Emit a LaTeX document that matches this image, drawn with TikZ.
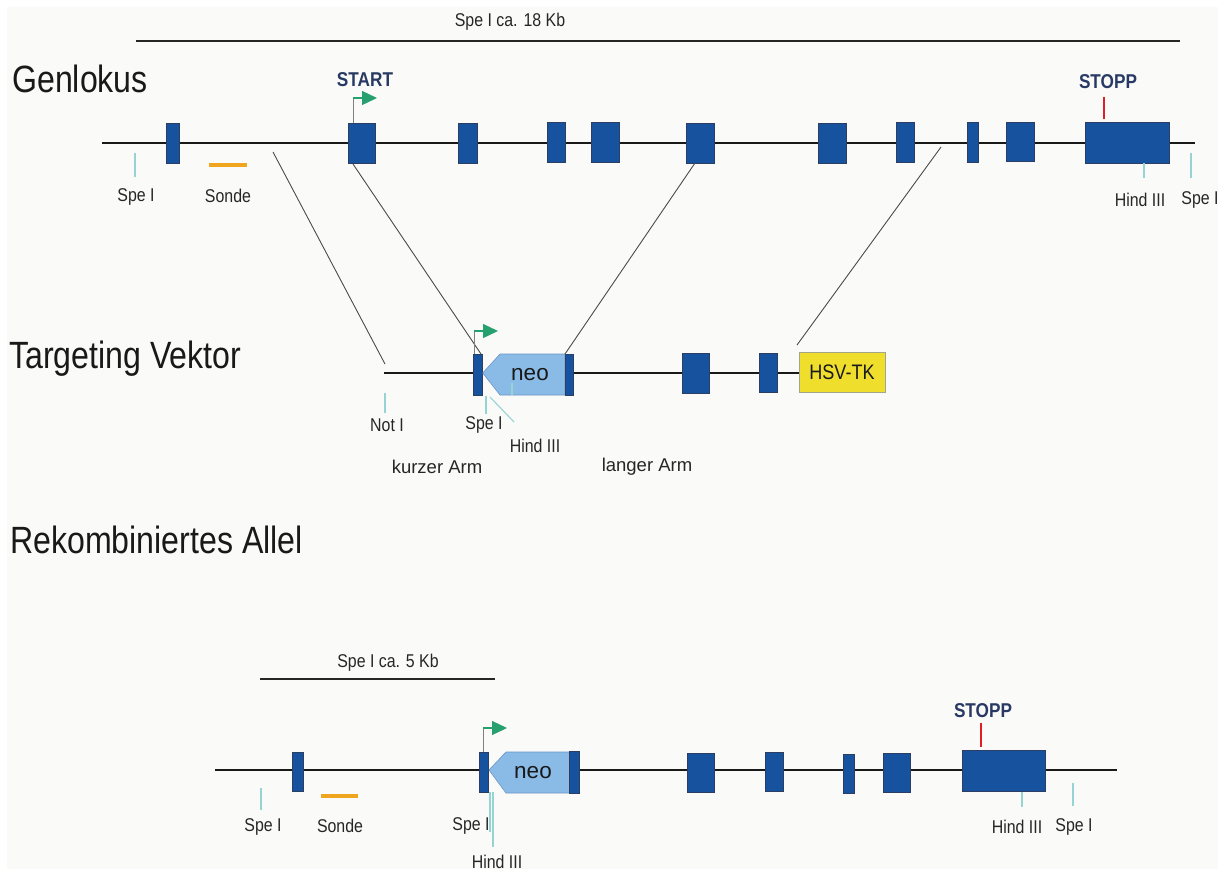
\documentclass[tikz,border=0pt]{standalone}
\usepackage{fontspec}
\setmainfont{Liberation Sans}
\newfontfamily\labfont[FakeStretch=0.86]{Liberation Sans}
\newfontfamily\titlefont[FakeStretch=0.845]{Liberation Sans}
\usetikzlibrary{arrows.meta,calc}
\definecolor{exonblue}{RGB}{22,82,158}
\definecolor{exonedge}{RGB}{45,62,100}
\definecolor{neofill}{RGB}{138,186,230}
\definecolor{neoedge}{RGB}{105,150,200}
\definecolor{tkyellow}{RGB}{240,222,44}
\definecolor{tkedge}{RGB}{165,165,140}
\definecolor{promgreen}{RGB}{38,160,110}
\definecolor{tickteal}{RGB}{150,212,212}
\definecolor{stopred}{RGB}{225,30,40}
\definecolor{sondeorange}{RGB}{240,165,30}
\definecolor{navy}{RGB}{40,58,100}
\definecolor{bggray}{RGB}{250,250,248}
\definecolor{diaggray}{RGB}{75,75,75}
\begin{document}
\begin{tikzpicture}[x=1pt,y=-1pt,
 exon/.style={draw=exonedge, line width=0.6pt, fill=exonblue, inner sep=0pt, minimum height=40},
 dna/.style={line width=2pt, black!90},
 spanline/.style={line width=2pt, black!85},
 diag/.style={line width=0.9pt, diaggray},
 site/.style={line width=1.1pt, tickteal},
 lab/.style={inner sep=0pt, font=\labfont\fontsize{18.5}{20}\selectfont, text=black!85},
 armlab/.style={inner sep=0pt, font=\fontsize{18.5}{20}\selectfont, text=black!85},
 ttl/.style={inner sep=0pt, anchor=base west, font=\titlefont\fontsize{38}{40}\selectfont, text=black!90},
 codon/.style={inner sep=0pt, font=\labfont\bfseries\fontsize{20}{22}\selectfont, text=navy},
 stoptick/.style={line width=2.4pt, stopred},
 sonde/.style={line width=4pt, sondeorange},
 promstem/.style={line width=1pt, gray},
 promhead/.style={line width=1.3pt, promgreen, -{Triangle[length=15pt,width=14pt]}},
 neobox/.style={draw=neoedge, line width=0.6pt, fill=neofill},
 neotext/.style={inner sep=0pt, font=\fontsize{22.5}{24}\selectfont, text=black!90},
]
\useasboundingbox (0,0) rectangle (1232,871);
\fill[white] (0,0) rectangle (1232,871);
\fill[bggray] (7,7) rectangle (1218,869);

% ---------------- titles
\node[ttl] (t1) at (12,92) {Genlokus};
\node[ttl] (t2) at (9,368) {Targeting Vektor};
\node[ttl] (t3) at (10,553) {Rekombiniertes Allel};

% ---------------- Genlokus
\coordinate (s1L) at (136,41); \coordinate (s1R) at (1180,41);
\draw[spanline] (s1L) -- (s1R);
\node[lab] (s1lab) at (510,22) {Spe I ca. 18 Kb};

\coordinate (gL) at (102,143); \coordinate (gR) at (1195,143);
\draw[dna] (gL) -- (gR);
\node[exon, minimum width=13] (g1) at (172.5,143) {};
\node[exon, minimum width=27] (g2) at (361.5,143) {};
\node[exon, minimum width=18.5] (g3) at (468,143) {};
\node[exon, minimum width=18] (g4) at (556,142) {};
\node[exon, minimum width=28] (g5) at (605,142) {};
\node[exon, minimum width=28] (g6) at (700,143) {};
\node[exon, minimum width=28] (g7) at (832,143) {};
\node[exon, minimum width=18] (g8) at (905,142) {};
\node[exon, minimum width=11] (g9) at (972.5,142) {};
\node[exon, minimum width=28, minimum height=39] (g10) at (1020,141.5) {};
\node[exon, minimum width=84, minimum height=41] (g11) at (1127,142.5) {};

% promoter + START
\coordinate (gp1) at (353,123); \coordinate (gp2) at (353,98); \coordinate (gp3) at (377,98);
\draw[promstem] (gp1) -- (gp2);
\draw[promhead] (gp2) -- (gp3);
\node[codon] (start) at (365,80) {START};
% STOPP
\coordinate (gs1) at (1104,97); \coordinate (gs2) at (1104,119);
\draw[stoptick] (gs1) -- (gs2);
\node[codon] (stopg) at (1108,82) {STOPP};

% sites
\coordinate (gsp1a) at (135,153); \coordinate (gsp1b) at (135,177);
\draw[site] (gsp1a) -- (gsp1b);
\node[lab] (gsp1) at (136,197) {Spe I};
\coordinate (gso1) at (209,165); \coordinate (gso2) at (247,165);
\draw[sonde] (gso1) -- (gso2);
\node[lab] (gsonde) at (228,196) {Sonde};
\coordinate (ghi1) at (1144,163); \coordinate (ghi2) at (1144,178);
\draw[site] (ghi1) -- (ghi2);
\node[lab] (ghind) at (1140,200) {Hind III};
\coordinate (gsp2a) at (1191,153); \coordinate (gsp2b) at (1191,178);
\draw[site] (gsp2a) -- (gsp2b);
\node[lab] (gsp2) at (1200,200) {Spe I};

% ---------------- Targeting vector
\coordinate (vL) at (384,373); \coordinate (vR) at (799,373);
\draw[dna] (vL) -- (vR);

% homology diagonals
\coordinate (d1a) at (273,152); \coordinate (d1b) at (385,364);
\coordinate (d2a) at (353,164); \coordinate (d2b) at (481,354);
\coordinate (d3a) at (695,163); \coordinate (d3b) at (565,354);
\coordinate (d4a) at (941,147); \coordinate (d4b) at (797,345);
\draw[diag] (d1a) -- (d1b);
\draw[diag] (d2a) -- (d2b);
\draw[diag] (d3a) -- (d3b);
\draw[diag] (d4a) -- (d4b);

\node[exon, minimum width=9.5, minimum height=41] (v1) at (477.75,374.5) {};
\draw[neobox] (482.7,373) -- (500,354) -- (565,354) -- (565,395) -- (500,395) -- cycle;
\node[neotext] (vneo) at (530,375) {neo};
\node[exon, minimum width=8.6, minimum height=41] (v2) at (569.3,374.5) {};
\node[exon, minimum width=26.5] (v3) at (695.75,373) {};
\node[exon, minimum width=18, minimum height=39] (v4) at (768,372.5) {};
\node[draw=tkedge, line width=0.8pt, fill=tkyellow, minimum width=86, minimum height=40, inner sep=0pt,
      font=\labfont\fontsize{21}{22}\selectfont, text=black!90] (tk) at (842,372) {HSV-TK};

\coordinate (vp1) at (474,354); \coordinate (vp2) at (474,331); \coordinate (vp3) at (498,331);
\draw[promstem] (vp1) -- (vp2);
\draw[promhead] (vp2) -- (vp3);

\coordinate (vn1) at (385,393); \coordinate (vn2) at (385,413);
\draw[site] (vn1) -- (vn2);
\node[lab] (vnot) at (387,425) {Not I};
\coordinate (vs1) at (486,396); \coordinate (vs2) at (486,414);
\draw[site] (vs1) -- (vs2);
\node[lab] (vspe) at (484,425) {Spe I};
\coordinate (vh0) at (512,383); \coordinate (vh1) at (490,397); \coordinate (vh2) at (514,422);
\draw[site] (vh0) -- ($(vh0)+(0,12)$);
\draw[site] (vh1) -- (vh2);
\node[lab] (vhind) at (535,446) {Hind III};
\node[armlab] (kurz) at (437,467) {kurzer Arm};
\node[armlab] (lang) at (647,467) {langer Arm};

% ---------------- Recombined allele
\coordinate (s2L) at (260,679); \coordinate (s2R) at (495,679);
\draw[spanline] (s2L) -- (s2R);
\node[lab] (s2lab) at (388,663) {Spe I ca. 5 Kb};

\coordinate (rL) at (215,770); \coordinate (rR) at (1117,770);
\draw[dna] (rL) -- (rR);
\node[exon, minimum width=11, minimum height=39] (r1) at (297.5,771.5) {};
\node[exon, minimum width=9] (r2) at (483.5,772) {};
\draw[neobox] (489,770) -- (506,752) -- (570,752) -- (570,793) -- (506,793) -- cycle;
\node[neotext] (rneo) at (533,773) {neo};
\node[exon, minimum width=10, minimum height=42] (r3) at (574,772) {};
\node[exon, minimum width=27, minimum height=39] (r4) at (700.5,772.5) {};
\node[exon, minimum width=18, minimum height=39] (r5) at (774,772) {};
\node[exon, minimum width=11, minimum height=39] (r6) at (848.5,773.5) {};
\node[exon, minimum width=27, minimum height=39] (r7) at (896.5,772.5) {};
\node[exon, minimum width=83, minimum height=41] (r8) at (1003.5,770.5) {};

\coordinate (rp1) at (483,752); \coordinate (rp2) at (483,728); \coordinate (rp3) at (507,728);
\draw[promstem] (rp1) -- (rp2);
\draw[promhead] (rp2) -- (rp3);
\coordinate (rs1) at (981,723); \coordinate (rs2) at (981,747);
\draw[stoptick] (rs1) -- (rs2);
\node[codon] (stopr) at (983,711) {STOPP};

\coordinate (rsp1a) at (261,788); \coordinate (rsp1b) at (261,810);
\draw[site] (rsp1a) -- (rsp1b);
\node[lab] (rsp1) at (263,827) {Spe I};
\coordinate (rso1) at (321,796); \coordinate (rso2) at (358,796);
\draw[sonde] (rso1) -- (rso2);
\node[lab] (rsonde) at (340,826) {Sonde};
\coordinate (rsp2a) at (490,792); \coordinate (rsp2b) at (490,832);
\draw[site] (rsp2a) -- (rsp2b);
\node[lab] (rsp2) at (471,826) {Spe I};
\coordinate (rh1a) at (493,792); \coordinate (rh1b) at (493,847);
\draw[site] (rh1a) -- (rh1b);
\node[lab] (rhind1) at (497,862) {Hind III};
\coordinate (rh2a) at (1022,792); \coordinate (rh2b) at (1022,807);
\draw[site] (rh2a) -- (rh2b);
\node[lab] (rhind2) at (1017,827) {Hind III};
\coordinate (rsp3a) at (1073,783); \coordinate (rsp3b) at (1073,806);
\draw[site] (rsp3a) -- (rsp3b);
\node[lab] (rsp3) at (1074,827) {Spe I};
\end{tikzpicture}
\end{document}
